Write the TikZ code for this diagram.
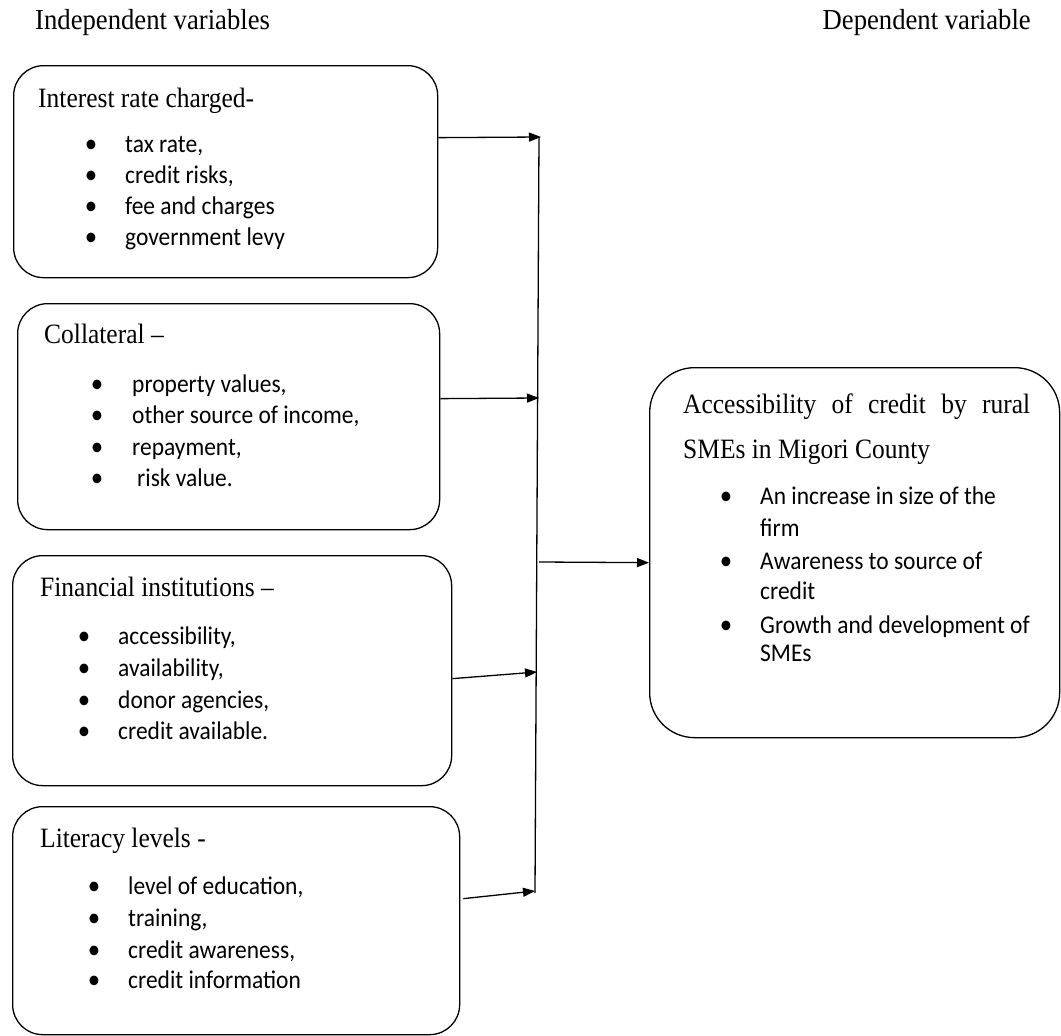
\documentclass[tikz,border=0pt]{standalone}
\usepackage{fontspec}
\usetikzlibrary{arrows.meta}
\newfontfamily\serf[FakeStretch=0.91]{Liberation Serif}
\newfontfamily\hserf[FakeStretch=0.92]{Liberation Serif}
\newfontfamily\sansf[FakeStretch=0.92]{Carlito}
\begin{document}
\begin{tikzpicture}[x=1pt,y=-1pt,
  box/.style={draw, line width=1.3pt, rounded corners=30pt, inner sep=0pt, anchor=north west},
  hdr/.style={inner sep=0pt, font=\hserf\fontsize{29}{34}\selectfont},
  ttl/.style={anchor=base west, inner sep=0pt, font=\serf\fontsize{28}{34}\selectfont},
  itm/.style={anchor=base west, inner sep=0pt, font=\sansf\fontsize{25.5}{31}\selectfont},
  bul/.style={anchor=base, inner sep=0pt, font=\sansf\fontsize{27}{31}\selectfont},
  arr/.style={line width=1.3pt, -{Triangle[length=12pt,width=9pt]}},
  ln/.style={line width=1.3pt}]
\useasboundingbox (0,0) rectangle (1061,1036);

% headers
\node[hdr, anchor=base west] (hind) at (35,30) {Independent variables};
\node[hdr, anchor=base east] (hdep) at (1031,30) {Dependent variable};

% boxes
\node[box, minimum width=424pt, minimum height=212pt] (b1) at (13,65) {};
\node[box, minimum width=422pt, minimum height=226pt] (b2) at (17,303) {};
\node[box, minimum width=439pt, minimum height=230pt] (b3) at (12,555) {};
\node[box, minimum width=447pt, minimum height=228pt] (b4) at (12,806) {};
\node[box, rounded corners=45pt, minimum width=410pt, minimum height=370pt] (b5) at (649,367) {};

% box 1
\node[ttl] (t1) at (38,107) {Interest rate charged-};
\node[bul] (p11) at (91,152) {•}; \node[itm] (i11) at (125,152) {tax rate,};
\node[bul] (p12) at (91,183) {•}; \node[itm] (i12) at (125,183) {credit risks,};
\node[bul] (p13) at (91,214) {•}; \node[itm] (i13) at (125,214) {fee and charges};
\node[bul] (p14) at (91,245) {•}; \node[itm] (i14) at (125,245) {government levy};

% box 2
\node[ttl] (t2) at (44,343) {Collateral –};
\node[bul] (p21) at (97,392) {•}; \node[itm] (i21) at (132,392) {property values,};
\node[bul] (p22) at (97,423) {•}; \node[itm] (i22) at (132,423) {other source of income,};
\node[bul] (p23) at (97,455) {•}; \node[itm] (i23) at (132,455) {repayment,};
\node[bul] (p24) at (97,486) {•}; \node[itm] (i24) at (137,486) {risk value.};

% box 3
\node[ttl] (t3) at (40,596) {Financial institutions –};
\node[bul] (p31) at (84,644) {•}; \node[itm] (i31) at (118,644) {accessibility,};
\node[bul] (p32) at (84,676) {•}; \node[itm] (i32) at (118,676) {availability,};
\node[bul] (p33) at (84,708) {•}; \node[itm] (i33) at (118,708) {donor agencies,};
\node[bul] (p34) at (84,739) {•}; \node[itm] (i34) at (118,739) {credit available.};

% box 4
\node[ttl] (t4) at (40,847) {Literacy levels -};
\node[bul] (p41) at (94,894) {•}; \node[itm] (i41) at (128,894) {level of education,};
\node[bul] (p42) at (94,926) {•}; \node[itm] (i42) at (128,926) {training,};
\node[bul] (p43) at (94,958) {•}; \node[itm] (i43) at (128,958) {credit awareness,};
\node[bul] (p44) at (94,988) {•}; \node[itm] (i44) at (128,988) {credit information};

% box 5
\node[ttl] (t5a) at (683,413) {\makebox[347pt][s]{Accessibility of credit by rural}};
\node[ttl] (t5b) at (683,458) {SMEs in Migori County};
\node[bul] (p51) at (726,504) {•}; \node[itm] (i51) at (760,504) {An increase in size of the};
\node[itm] (i51b) at (760,536) {firm};
\node[bul] (p52) at (726,569) {•}; \node[itm] (i52) at (760,569) {Awareness to source of};
\node[itm] (i52b) at (760,599) {credit};
\node[bul] (p53) at (726,633) {•}; \node[itm] (i53) at (760,633) {Growth and development of};
\node[itm] (i53b) at (760,661) {SMEs};

% connector points
\coordinate (vtop) at (539,137);
\coordinate (vbot) at (535,893);
\coordinate (v1) at (541,137);
\coordinate (v2) at (539,398);
\coordinate (v3) at (537,672);
\coordinate (v4) at (535,891);
\coordinate (vout) at (539,562);
\coordinate (s1) at ([yshift=34pt]b1.east);
\coordinate (s2) at ([yshift=18pt]b2.east);
\coordinate (s3) at ([yshift=-8pt]b3.east);
\coordinate (s4) at ([xshift=3pt,yshift=22pt]b4.east);
\coordinate (e5) at ([yshift=-10pt]b5.west);

\draw[ln] (vtop) -- (vbot);
\draw[arr] (s1) -- (v1);
\draw[arr] (s2) -- (v2);
\draw[arr] (s3) -- (v3);
\draw[arr] (s4) -- (v4);
\draw[arr] (vout) -- (e5);
\end{tikzpicture}
\end{document}
